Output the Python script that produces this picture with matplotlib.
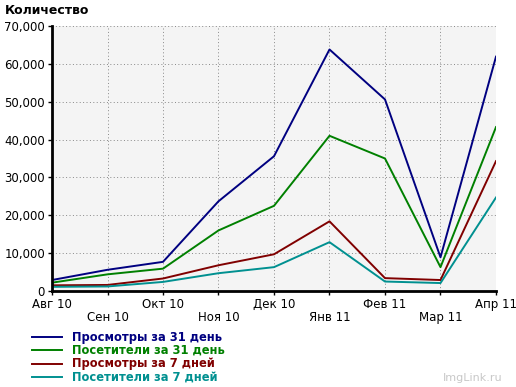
import numpy as np
import matplotlib.pyplot as plt
from matplotlib.lines import Line2D
from matplotlib.ticker import FuncFormatter

months = ['Авг 10', 'Сен 10', 'Окт 10', 'Ноя 10', 'Дек 10',
          'Янв 11', 'Фев 11', 'Мар 11', 'Апр 11']

views_31 = [2900, 5600, 7700, 23700, 35600, 63800, 50600, 8900, 61900]
visitors_31 = [2200, 4400, 5900, 16000, 22500, 41000, 35000, 6300, 43300]
views_7 = [1500, 1600, 3300, 6800, 9700, 18400, 3400, 2900, 34300]
visitors_7 = [1100, 1200, 2400, 4700, 6300, 12900, 2500, 2100, 24700]

labels = ['Просмотры за 31 день', 'Посетители за 31 день',
          'Просмотры за 7 дней', 'Посетители за 7 дней']
colors = ['#000080', '#008000', '#800000', '#009090']

plt.rcParams['font.family'] = 'DejaVu Sans'

fig = plt.figure(figsize=(5.16, 3.87), dpi=100)
ax = fig.add_axes([52 / 516, 1 - 291 / 387, 444 / 516, 265 / 387])
ax.set_facecolor('#f4f4f4')

x = np.arange(len(months))
series = [views_31, visitors_31, views_7, visitors_7]
for s, c, lab in zip(series, colors, labels):
    ax.plot(x, s, color=c, linewidth=1.4, label=lab)

ax.set_xlim(0, len(months) - 1)
ax.set_ylim(0, 70000)
ax.set_yticks(np.arange(0, 70001, 10000))
ax.yaxis.set_major_formatter(FuncFormatter(lambda v, p: f'{int(v):,}'))
ax.set_xticks(x)
ax.set_xticklabels([m if i % 2 == 0 else '\n' + m for i, m in enumerate(months)],
                   linespacing=1.0)
ax.tick_params(labelsize=8.5, length=3, width=1, colors='black', pad=2)
ax.grid(True, color='#888888', linestyle=(0, (1, 2.5)), linewidth=0.7)
ax.set_axisbelow(True)

for sp in ['top', 'right']:
    ax.spines[sp].set_visible(False)
for sp in ['left', 'bottom']:
    ax.spines[sp].set_linewidth(2)

fig.text(5 / 516, 1 - 10 / 387, 'Количество', fontsize=9, fontweight='bold',
         va='center', ha='left')

# legend, drawn by hand to get the tight row spacing
for i, (c, lab) in enumerate(zip(colors, labels)):
    y = 1 - (337 + 13.3 * i) / 387
    fig.add_artist(Line2D([32 / 516, 62 / 516], [y, y], color=c, linewidth=1.4))
    fig.text(72 / 516, y, lab, color=c, fontsize=8.3, fontweight='bold',
             va='center', ha='left')

fig.text(502 / 516, 1 - 378 / 387, 'ImgLink.ru', fontsize=8, color='#c8c8c8',
         ha='right', va='center')

fig.savefig('out.png', dpi=100)
